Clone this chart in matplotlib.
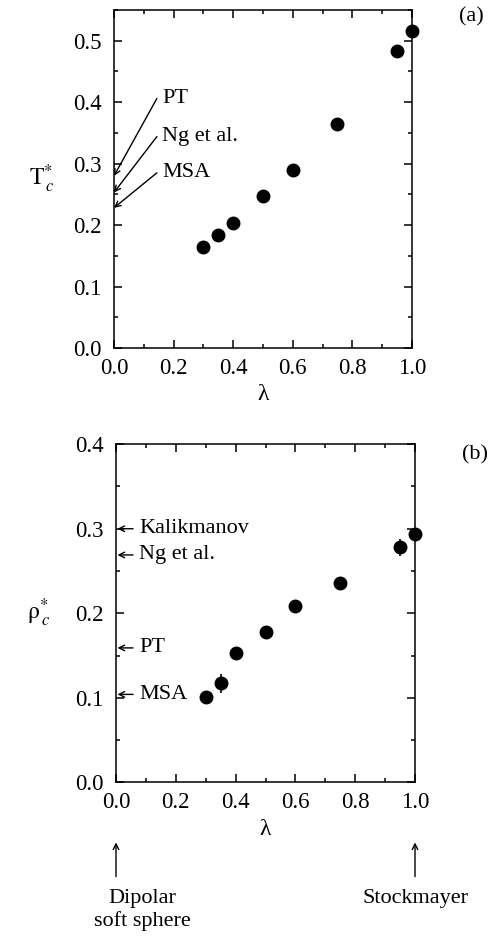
import numpy as np
import matplotlib
matplotlib.use("Agg")
import matplotlib.pyplot as plt
from matplotlib.ticker import MultipleLocator

plt.rcParams['font.family'] = ['Liberation Serif', 'DejaVu Serif']
plt.rcParams['mathtext.fontset'] = 'stix'

# data
lam = [0.30, 0.35, 0.40, 0.50, 0.60, 0.75, 0.95, 1.00]
Tc = [0.165, 0.184, 0.204, 0.247, 0.290, 0.364, 0.483, 0.516]
Tc_err = [0.0, 0.010, 0.0, 0.0, 0.0, 0.0, 0.0, 0.0]
rhoc = [0.101, 0.117, 0.153, 0.178, 0.209, 0.236, 0.278, 0.294]
rhoc_err = [0.0, 0.011, 0.004, 0.0, 0.0, 0.0, 0.010, 0.0]

# theory values at lambda = 0
T_theory = ['PT', 'Ng et al.', 'MSA']
T_theory_val = [0.280, 0.253, 0.228]
T_text_y = [0.406, 0.344, 0.285]
rho_theory = ['Kalikmanov', 'Ng et al.', 'PT', 'MSA']
rho_theory_val = [0.300, 0.269, 0.159, 0.104]

fig = plt.figure(figsize=(4.96, 9.39), dpi=100)
ax1 = fig.add_axes([0.2298, 0.6294, 0.6008, 0.3600])
ax2 = fig.add_axes([0.2339, 0.1669, 0.6028, 0.3600])


def style_axes(ax, ymax, ymajor):
    ax.set_xlim(0, 1.0)
    ax.set_ylim(0, ymax)
    ax.xaxis.set_major_locator(MultipleLocator(0.2))
    ax.xaxis.set_minor_locator(MultipleLocator(0.1))
    ax.yaxis.set_major_locator(MultipleLocator(ymajor))
    ax.yaxis.set_minor_locator(MultipleLocator(ymajor / 2))
    ax.tick_params(which='both', direction='in', top=True, right=True,
                   labelsize=16.5, width=1.1)
    ax.tick_params(which='major', length=6)
    ax.tick_params(which='minor', length=3)
    ax.tick_params(axis='x', which='major', pad=7)
    ax.tick_params(axis='y', which='major', pad=9)
    ax.xaxis.set_major_formatter(plt.FormatStrFormatter('%.1f'))
    ax.yaxis.set_major_formatter(plt.FormatStrFormatter('%.1f'))
    for s in ax.spines.values():
        s.set_linewidth(1.1)
    ax.set_xlabel('λ', fontsize=17, labelpad=4)


# (a) critical temperature
style_axes(ax1, 0.55, 0.1)
ax1.errorbar(lam, Tc, yerr=Tc_err, fmt='o', color='black', ms=9,
             elinewidth=1.2, capsize=0, clip_on=False)
ax1.set_ylabel(r'$\mathrm{T}^{*}_{\,c}$', fontsize=17, rotation=0,
               labelpad=22, va='center')
for name, val, ty in zip(T_theory, T_theory_val, T_text_y):
    ax1.annotate('', xy=(0.0, val), xytext=(0.144, ty),
                 arrowprops=dict(arrowstyle='->', lw=1.0, color='black',
                                 shrinkA=0, shrinkB=0),
                 annotation_clip=False)
    ax1.text(0.162, ty, name, fontsize=16, va='center', ha='left')
ax1.text(1.2, 0.539, '(a)', fontsize=16, ha='center', va='center',
         clip_on=False)

# (b) critical density
style_axes(ax2, 0.4, 0.1)
ax2.errorbar(lam, rhoc, yerr=rhoc_err, fmt='o', color='black', ms=9,
             elinewidth=1.2, capsize=0, clip_on=False)
ax2.set_ylabel(r'$\mathrm{\rho}^{*}_{\,c}$', fontsize=17, rotation=0,
               labelpad=26, va='center')
for name, val in zip(rho_theory, rho_theory_val):
    ax2.annotate('', xy=(0.005, val), xytext=(0.057, val),
                 arrowprops=dict(arrowstyle='->', lw=1.0, color='black',
                                 shrinkA=0, shrinkB=0),
                 annotation_clip=False)
    ax2.text(0.077, val, name, fontsize=16, va='center', ha='left')
ax2.text(1.2, 0.387, '(b)', fontsize=16, ha='center', va='center',
         clip_on=False)

# limiting cases below the lambda axis
tr = ax2.get_xaxis_transform()
for xv in [0.0, 1.0]:
    ax2.annotate('', xy=(xv, -0.178), xytext=(xv, -0.279), xycoords=tr,
                 textcoords=tr,
                 arrowprops=dict(arrowstyle='->', lw=1.0, color='black',
                                 shrinkA=0, shrinkB=0),
                 annotation_clip=False)
ax2.text(0.087, -0.315, 'Dipolar\nsoft sphere', transform=tr, fontsize=16,
         ha='center', va='top', linespacing=1.25)
ax2.text(1.0, -0.315, 'Stockmayer', transform=tr, fontsize=16,
         ha='center', va='top')

fig.savefig('out.png', dpi=100)
